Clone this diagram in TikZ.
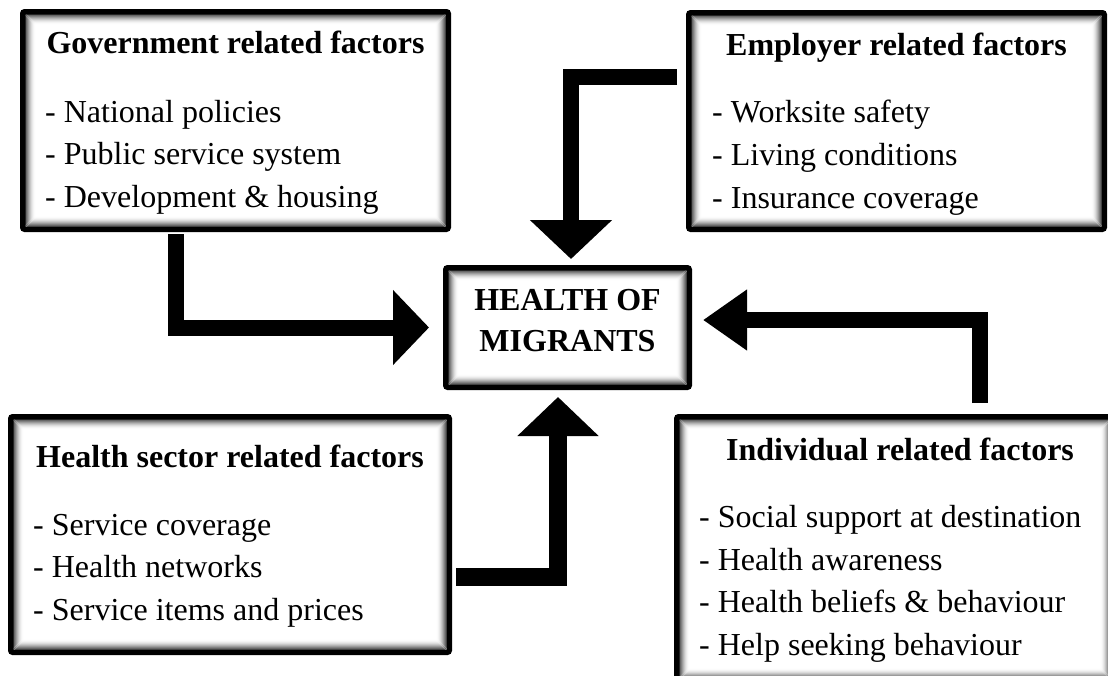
\documentclass[tikz,border=0pt]{standalone}
\usepackage{fontspec}
\setmainfont{Liberation Serif}
\usetikzlibrary{arrows.meta}

\begin{document}
\begin{tikzpicture}[x=1pt,y=-1pt,
  factorbox/.style={draw=black, line width=5.5pt, fill=white, rounded corners=2pt,
    inner sep=0pt,
    path picture={
      \foreach \i [evaluate=\i as \o using {0.6*(1-(\i-3)/10)^2}] in {3,...,12}
        \draw[line width=1.2pt, draw=black, draw opacity=\o]
          ([shift={(\i pt,-\i pt)}]path picture bounding box.north west) rectangle
          ([shift={(-\i pt,\i pt)}]path picture bounding box.south east);
    }},
  heading/.style={font=\bfseries\fontsize{32}{40}\selectfont, inner sep=0pt, anchor=base},
  item/.style={font=\fontsize{32}{40}\selectfont, inner sep=0pt, anchor=base west},
  fatarrow/.style={draw=black, line width=16pt, line join=miter},
]
\useasboundingbox (0,0) rectangle (1108,675);
\fill[white] (0,0) rectangle (1108,675);

% factor boxes
\node[factorbox, minimum width=425.5pt, minimum height=217.5pt] (gov) at (235.5,120.5) {};
\node[factorbox, minimum width=415.5pt, minimum height=216.5pt] (emp) at (896.5,121) {};
\node[factorbox, minimum width=243.5pt, minimum height=119.5pt] (hm) at (567.5,327.5) {};
\node[factorbox, minimum width=438.5pt, minimum height=235.5pt] (hs) at (230,534.5) {};
\node[factorbox, minimum width=436.5pt, minimum height=264.5pt] (ind) at (895,549) {};

% government
\node[heading] (govT) at (235.5,53) {Government related factors};
\node[item] (gov1) at (45,122) {- National policies};
\node[item] (gov2) at (45,164) {- Public service system};
\node[item] (gov3) at (45,207) {- Development \& housing};

% employer
\node[heading] (empT) at (896.5,55) {Employer related factors};
\node[item] (emp1) at (712,122) {- Worksite safety};
\node[item] (emp2) at (712,165) {- Living conditions};
\node[item] (emp3) at (712,208) {- Insurance coverage};

% centre
\node[heading] (hmT1) at (567.5,310) {HEALTH OF};
\node[heading] (hmT2) at (567.5,351) {MIGRANTS};

% health sector
\node[heading] (hsT) at (230,467) {Health sector related factors};
\node[item] (hs1) at (33,535) {- Service coverage};
\node[item] (hs2) at (33,577) {- Health networks};
\node[item] (hs3) at (33,620) {- Service items and prices};

% individual
\node[heading] (indT) at (900,460) {Individual related factors};
\node[item] (ind1) at (699,527) {- Social support at destination};
\node[item] (ind2) at (699,570) {- Health awareness};
\node[item] (ind3) at (699,612) {- Health beliefs \& behaviour};
\node[item] (ind4) at (699,655) {- Help seeking behaviour};

% connectors
\draw[fatarrow, -{Triangle[length=36pt,width=73pt]}, shorten <=2pt, shorten >=14pt]
  ([xshift=-59.5pt]gov.south) |- (hm.west);
\draw[fatarrow, -{Triangle[length=39pt,width=80pt]}, shorten <=9pt, shorten >=6pt]
  ([yshift=44.5pt]emp.west) -| ([xshift=3.5pt]hm.north);
\draw[fatarrow, line width=18pt, -{Triangle[length=39pt,width=79pt]}, shorten <=4pt, shorten >=7pt]
  ([yshift=-42.5pt]hs.east) -| ([xshift=-9.5pt]hm.south);
\draw[fatarrow, -{Triangle[length=44pt,width=58pt]}, shorten <=11pt, shorten >=11pt]
  ([xshift=84.5pt]ind.north) |- ([yshift=7.5pt]hm.east);
\end{tikzpicture}
\end{document}
